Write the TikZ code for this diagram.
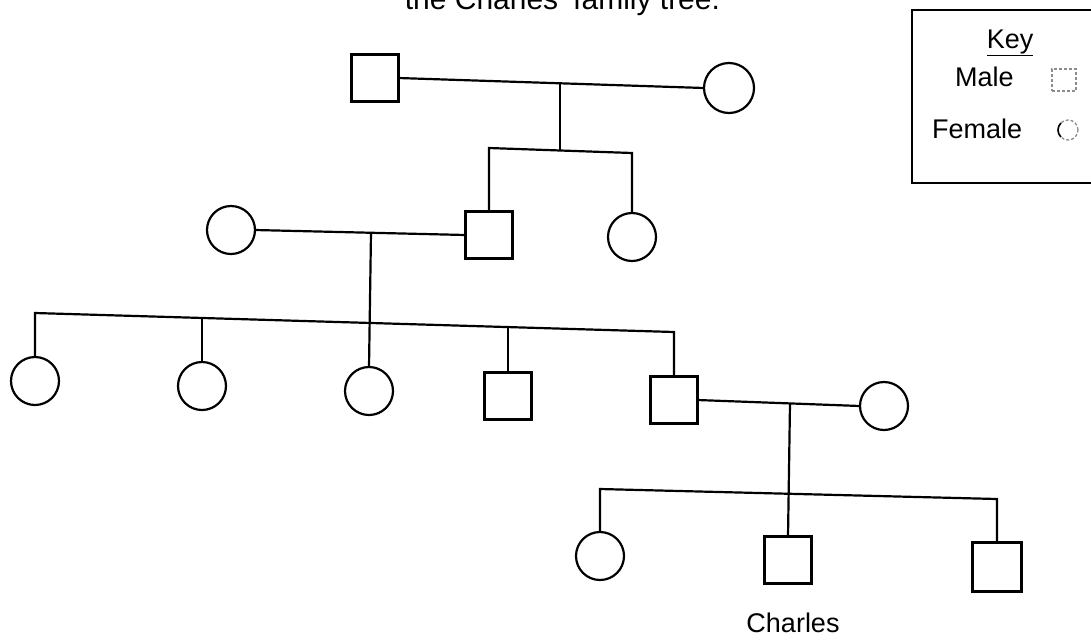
\documentclass[tikz,border=0pt]{standalone}
\usepackage{fontspec}
\setmainfont{Liberation Sans}
\begin{document}
\begin{tikzpicture}[x=1pt,y=-1pt,
  every node/.style={inner sep=0pt, outer sep=0pt},
  male/.style={draw, rectangle, minimum size=47pt, line width=2.3pt},
  female/.style={draw, circle, minimum size=48pt, line width=2.2pt},
  link/.style={line width=2.2pt},
  lbl/.style={font=\fontsize{27}{30}\selectfont},
  keysym/.style={draw=black!45, densely dashed, line width=1.3pt}]
\useasboundingbox[fill=white] (0,0) rectangle (1091,641);

% generation 1
\node[male] (a) at (375,78) {};
\node[female, minimum size=50pt] (b) at (729,88) {};
% generation 2
\node[male] (c) at (489,235) {};
\node[female] (d) at (632,237) {};
\node[female] (e) at (231,230) {};
% generation 3
\node[female] (g1) at (35,381) {};
\node[female] (g2) at (202,386) {};
\node[female] (g3) at (369,391) {};
\node[male] (g4) at (508,396) {};
\node[male] (g5) at (674,400) {};
\node[female] (g6) at (884,406) {};
% generation 4
\node[female] (h1) at (600,556) {};
\node[male] (h2) at (788,560) {};
\node[male, minimum size=49pt] (h3) at (997,567) {};
\node[lbl, anchor=base] (ch) at (793,632) {Charles};

% connectors
\coordinate (j1) at (560,83);
\coordinate (s1m) at (560,150.5);
\coordinate (s1l) at (489,148);
\coordinate (s1r) at (632,153);
\draw[link] (a.east) -- (b.west);
\draw[link] (j1) -- (s1m);
\draw[link] (c.north) -- (s1l) -- (s1r) -- (d.north);

\coordinate (j2) at (371,232.5);
\draw[link] (e.east) -- (c.west);
\draw[link] (j2) -- (g3.north);

\coordinate (s2l) at (35,313);
\coordinate (s2r) at (674,332);
\coordinate (s2b) at (202,318);
\coordinate (s2d) at (508,327);
\draw[link] (g1.north) -- (s2l) -- (s2r) -- (g5.north);
\draw[link] (s2b) -- (g2.north);
\draw[link] (s2d) -- (g4.north);

\coordinate (j3) at (790,403);
\draw[link] (g5.east) -- (g6.west);
\draw[link] (j3) -- (h2.north);

\coordinate (s3l) at (600,489);
\coordinate (s3r) at (997,499);
\draw[link] (h1.north) -- (s3l) -- (s3r) -- (h3.north);

% title (cut off at the top edge, as in the reference)
\node[font=\fontsize{30}{32}\selectfont, anchor=base east] (title) at (720,9) {the Charles' family tree.};

% key
\draw[line width=2pt] (1100,10) -- (912,10) -- (912,183) -- (1100,183);
\node[lbl, anchor=base] (key) at (1010,48) {\underline{Key}};
\node[lbl, anchor=base west] (male) at (955,86) {Male};
\node[keysym, minimum width=24pt, minimum height=22pt] (ms) at (1064,80) {};
\node[lbl, anchor=base west] (fem) at (932,138) {Female};
\node[keysym, circle, minimum size=20pt] (fs) at (1068,130) {};
\draw[line width=1.6pt] (fs.north west) arc[start angle=135, end angle=225, radius=10pt];
\end{tikzpicture}
\end{document}
